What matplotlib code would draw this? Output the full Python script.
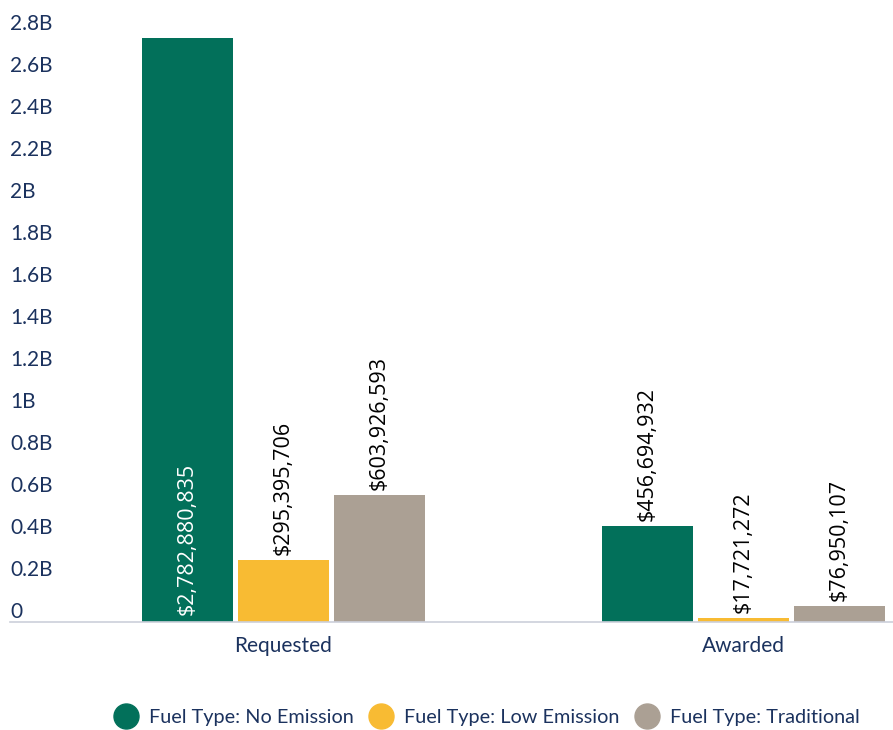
import matplotlib
matplotlib.use("Agg")
import matplotlib.pyplot as plt
from matplotlib.lines import Line2D
import numpy as np

categories = ["Requested", "Awarded"]
series_names = ["Fuel Type: No Emission", "Fuel Type: Low Emission", "Fuel Type: Traditional"]
no_emission = [2782880835, 456694932]
low_emission = [295395706, 17721272]
traditional = [603926593, 76950107]
ytick_vals = [0, 0.2e9, 0.4e9, 0.6e9, 0.8e9, 1.0e9, 1.2e9, 1.4e9, 1.6e9, 1.8e9, 2.0e9, 2.2e9, 2.4e9, 2.6e9, 2.8e9]
ytick_labels = ["0", "0.2B", "0.4B", "0.6B", "0.8B", "1B", "1.2B", "1.4B", "1.6B", "1.8B", "2B", "2.2B", "2.4B", "2.6B", "2.8B"]

colors = ["#02705a", "#f8bb33", "#aba094"]
text_color = "#1b325e"

fig = plt.figure(figsize=(8.93, 7.30), dpi=100)
W, H = 893, 730
ax = fig.add_axes([10 / W, 108 / H, 883 / W, (622 - 34) / H])

x = np.arange(len(categories))
width = 0.198
step = 0.2087
series = [no_emission, low_emission, traditional]
for i, (vals, c, name) in enumerate(zip(series, colors, series_names)):
    pos = x + (i - 1) * step
    bars = ax.bar(pos, vals, width=width, color=c, label=name, zorder=2)
    for j, (b, v) in enumerate(zip(bars, vals)):
        lbl = "${:,}".format(v)
        cx = b.get_x() + b.get_width() / 2
        if i == 0 and j == 0:
            ax.annotate(lbl, (cx, 0), xytext=(0, 5), textcoords="offset points",
                        rotation=90, ha="center", va="bottom", color="white",
                        fontsize=15.5, family="Open Sans")
        else:
            ax.annotate(lbl, (cx, v), xytext=(0, 3.5), textcoords="offset points",
                        rotation=90, ha="center", va="bottom", color="black",
                        fontsize=15.5, family="Open Sans")

ax.set_xlim(-0.5946, 1.325)
ax.set_ylim(0, 2.8e9)
ax.set_yticks(ytick_vals)
ax.set_yticklabels(ytick_labels)
ax.tick_params(axis="y", length=0, pad=0, labelsize=15, labelcolor=text_color)
for t in ax.get_yticklabels():
    t.set_horizontalalignment("left")
    t.set_verticalalignment("bottom")
    t.set_family("Lato")
ax.set_xticks(x)
ax.set_xticklabels(categories)
ax.tick_params(axis="x", length=0, pad=10, labelsize=15, labelcolor=text_color)
for t in ax.get_xticklabels():
    t.set_family("Lato")
for s in ["top", "right", "left"]:
    ax.spines[s].set_visible(False)
ax.spines["bottom"].set_color("#ccd0da")
ax.spines["bottom"].set_linewidth(1.2)
ax.patch.set_alpha(0)

handles = [Line2D([], [], marker="o", linestyle="none", markersize=18,
                  markerfacecolor=c, markeredgecolor=c) for c in colors]
leg = fig.legend(handles, series_names, loc="center", bbox_to_anchor=(487 / W, 1 - 717 / H),
                 ncol=3, frameon=False, handletextpad=0.55, columnspacing=0.8,
                 prop={"family": "Lato", "size": 14.3}, handlelength=1.2)
for t in leg.get_texts():
    t.set_color(text_color)

fig.savefig("out.png", dpi=100)
